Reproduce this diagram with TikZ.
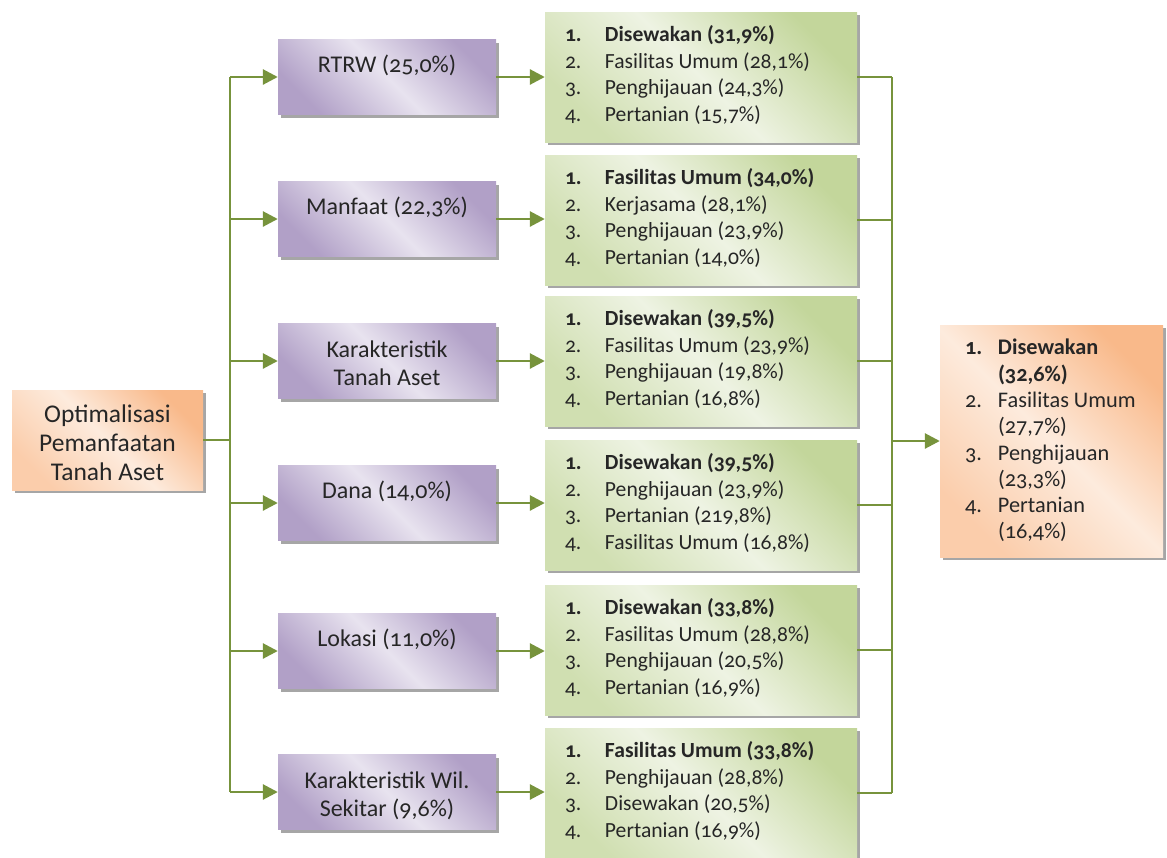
\documentclass[tikz,border=0pt]{standalone}
\usepackage{fontspec}
\setmainfont{Carlito}[Numbers=OldStyle]
\usetikzlibrary{arrows.meta,shadows,calc}
\definecolor{lnG}{HTML}{77933C}
\definecolor{purD}{HTML}{B1A0C7}
\definecolor{purL}{HTML}{E8E3EF}
\definecolor{grnD}{HTML}{C3D69B}
\definecolor{grnL}{HTML}{EEF3E3}
\definecolor{orgD}{HTML}{F9B98A}
\definecolor{orgL}{HTML}{FDEBDD}
\definecolor{txt}{HTML}{262626}
\tikzset{
  box/.style={draw=none, inner sep=0pt,
    general shadow={fill=black!35, shadow xshift=3pt, shadow yshift=-3pt}},
  pbox/.style={box, minimum width=218pt, minimum height=75pt,
    top color=purD, bottom color=purD, middle color=purL, shading angle=-45},
  gbox/.style={box, minimum width=312pt, minimum height=130pt,
    top color=grnD, bottom color=grnD!70!grnL, middle color=grnL, shading angle=-45},
  obox/.style={box, top color=orgD, bottom color=orgD!60!orgL, middle color=orgL, shading angle=-45},
  ptext/.style={inner sep=0pt, anchor=base, text=txt, font=\fontsize{24}{28}\selectfont},
  gtext/.style={inner sep=0pt, anchor=base west, text=txt, font=\fontsize{21.6}{26.5}\selectfont},
  ln/.style={draw=lnG, line width=2.8pt},
  arr/.style={ln, -{Triangle[length=15pt,width=15pt]}},
}
\newcommand{\glist}[4]{\begin{tabular}[t]{@{}p{40pt}@{}l@{}}\textbf{1.} & \textbf{#1}\\ 2. & #2\\ 3. & #3\\ 4. & #4\end{tabular}}
\begin{document}
\begin{tikzpicture}[x=1pt,y=-1pt]
\useasboundingbox (0,0) rectangle (1167,857);
% left box
\node[obox, minimum width=191pt, minimum height=100pt] (L) at (107.5,440) {};
\node[ptext, font=\fontsize{25.5}{29}\selectfont] (Lt) at ($(L.north)+(0,33)$)
  {\begin{tabular}[t]{@{}c@{}}Optimalisasi\\Pemanfaatan\\Tanah Aset\end{tabular}};
% purple boxes
\node[pbox] (p1) at (387,77) {};
\node[pbox] (p2) at (387,219) {};
\node[pbox] (p3) at (387,361) {};
\node[pbox] (p4) at (387,503) {};
\node[pbox] (p5) at (387,651) {};
\node[pbox] (p6) at (387,792) {};
\node[ptext] (p1t) at ($(p1.north)+(0,33)$) {RTRW (25,0\%)};
\node[ptext] (p2t) at ($(p2.north)+(0,33)$) {Manfaat (22,3\%)};
\node[ptext] (p3t) at ($(p3.north)+(0,34)$) {\begin{tabular}[t]{@{}c@{}}Karakteristik\\Tanah Aset\end{tabular}};
\node[ptext] (p4t) at ($(p4.north)+(0,33)$) {Dana (14,0\%)};
\node[ptext] (p5t) at ($(p5.north)+(0,33)$) {Lokasi (11,0\%)};
\node[ptext] (p6t) at ($(p6.north)+(0,34)$) {\begin{tabular}[t]{@{}c@{}}Karakteristik Wil.\\Sekitar (9,6\%)\end{tabular}};
% green boxes
\node[gbox] (g1) at (701,77) {};
\node[gbox] (g2) at (701,220) {};
\node[gbox] (g3) at (701,361) {};
\node[gbox] (g4) at (701,505) {};
\node[gbox] (g5) at (701,650) {};
\node[gbox] (g6) at (701,793) {};
\node[gtext] (g1t) at ($(g1.north west)+(20,30)$) {\glist{Disewakan (31,9\%)}{Fasilitas Umum (28,1\%)}{Penghijauan (24,3\%)}{Pertanian (15,7\%)}};
\node[gtext] (g2t) at ($(g2.north west)+(20,30)$) {\glist{Fasilitas Umum (34,0\%)}{Kerjasama (28,1\%)}{Penghijauan (23,9\%)}{Pertanian (14,0\%)}};
\node[gtext] (g3t) at ($(g3.north west)+(20,30)$) {\glist{Disewakan (39,5\%)}{Fasilitas Umum (23,9\%)}{Penghijauan (19,8\%)}{Pertanian (16,8\%)}};
\node[gtext] (g4t) at ($(g4.north west)+(20,30)$) {\glist{Disewakan (39,5\%)}{Penghijauan (23,9\%)}{Pertanian (219,8\%)}{Fasilitas Umum (16,8\%)}};
\node[gtext] (g5t) at ($(g5.north west)+(20,30)$) {\glist{Disewakan (33,8\%)}{Fasilitas Umum (28,8\%)}{Penghijauan (20,5\%)}{Pertanian (16,9\%)}};
\node[gtext] (g6t) at ($(g6.north west)+(20,30)$) {\glist{Fasilitas Umum (33,8\%)}{Penghijauan (28,8\%)}{Disewakan (20,5\%)}{Pertanian (16,9\%)}};
% right orange box
\node[obox, minimum width=223pt, minimum height=232pt] (R) at (1051.5,441) {};
\node[gtext, font=\fontsize{22.3}{26.3}\selectfont] (Rt) at ($(R.north west)+(25,30)$)
  {\begin{tabular}[t]{@{}p{33pt}@{}l@{}}\textbf{1.} & \textbf{Disewakan}\\ & \textbf{(32,6\%)}\\ 2. & Fasilitas Umum\\ & (27,7\%)\\ 3. & Penghijauan\\ & (23,3\%)\\ 4. & Pertanian\\ & (16,4\%)\end{tabular}};
% connectors
\coordinate (tl) at (230,440);
\coordinate (rt) at (892,441);
\draw[ln] (L.east) -- (L.east -| tl);
\draw[ln] (p1.west -| tl) -- (p6.west -| tl);
\foreach \i in {1,...,6}{
  \draw[arr] (p\i.west -| tl) -- (p\i.west);
  \draw[arr] (p\i.east) -- (p\i.east -| g\i.west);
  \draw[ln] (g\i.east) -- (g\i.east -| rt);
}
\draw[ln] (g1.east -| rt) -- (g6.east -| rt);
\draw[arr] (R.west -| rt) -- (R.west);
\end{tikzpicture}
\end{document}
